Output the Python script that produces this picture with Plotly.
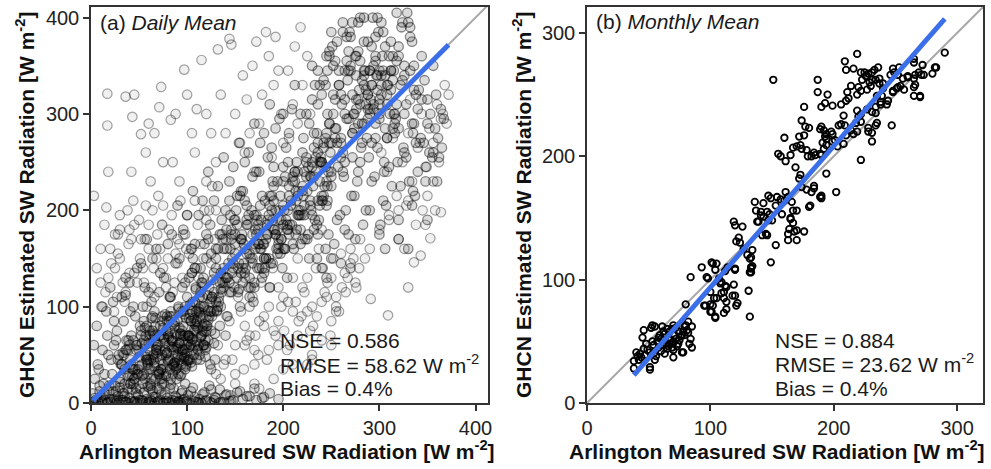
import plotly.graph_objects as go

# ---------------- Panel (a): daily mean ----------------
# bottom strip (GHCN estimate near zero)
daily_x_a = [2,5,8,10,12,15,18,20,23,26, 28,31,34,37,40,43,46,49,52,55, 58,61,64,67,70,73,76,79,82,85,
             88,91,94,97,100,104,108,112,116,120, 125,130,135,140,146,152,158,165,172,180,
             3,7,11,14,17,21,25,29,33,36, 39,42,45,48,51,54,57,60,63,66, 69,72,75,78,81,84,87,90,93,96,
             99,103,107,111,115,119,124,128,133,138,
             4,9,13,19,24,30,35,41,47,53, 59,65,71,77,83,89,95,101,106,113,
             118,123,129,134,141,148,155,162,170,178, 186,195,27,44,62,79,92,109,126,144]
daily_y_a = [1,3,0,6,2,9,1,4,12,0, 7,3,10,1,5,14,2,8,0,11, 4,1,13,6,2,9,0,5,15,3,
             7,1,10,4,2,12,6,0,9,3, 14,5,1,8,2,11,4,7,3,6,
             0,2,1,3,0,1,2,0,3,1, 0,2,1,0,3,2,0,1,2,0, 1,3,0,2,1,0,2,1,0,3,
             1,0,2,1,0,2,1,3,0,1,
             5,12,8,18,4,16,7,20,10,3, 17,6,14,9,19,5,13,8,16,4,
             11,18,6,14,9,3,12,7,15,5, 10,4,2,1,3,0,2,1,0,2]
# dense low core
daily_x_b = [22,25,28,30,33,35,38,40,42,45, 47,50,52,55,57,60,62,64,66,68, 70,72,74,76,78,80,82,84,86,88,
             90,92,94,96,98,100,102,104,106,108, 110,112,114,116,118,120,123,126,129,132,
             24,27,31,34,37,41,44,48,51,54, 58,61,63,65,67,69,71,73,75,77, 79,81,83,85,87,89,91,93,95,97,
             99,101,103,105,107,109,111,113,115,117, 119,122,125,128,131,134,137,140,36,46,
             29,39,49,56,59,63,68,72,76,80, 84,86,88,90,92,94,96,98,100,103, 106,110,114,118,121,124,127,130,135,138,
             26,32,43,53,62,74,82,87,93,97, 79,85,91,71,66,58,102,108,115,95,
             41,44,47,50,53,56,59,62,65,68, 71,74,77,80,83,86,89,92,95,98, 101,104,107,110,113,116,119,122,125,128,
             60,66,72,78,84,90,96,102,108,114, 63,69,75,81,87,93,99,105,111,117, 55,61,67,73,79,85,91,97,103,109,
             30,34,38,42,46,50,54,58,62,66, 70,74,78,82,86,90,94,98,102,106,
             110,114,118,122,126,32,40,48,56,64, 72,80,88,96,104,112,120,128,36,44,
             52,60,68,76,84,92,100,108,116,124, 33,41,49,57,65,73,81,89,97,105,
             113,121,129,37,45,53,61,69,77,85, 93,101,109,117,125,35,55,75,95,115,
             43,63,83,103,123,39,59,79,99,119, 51,71,91,111,47,67,87,107,58,78,
             98,118,62,82,102,86,90,94,74,70]
daily_y_b = [30,18,45,22,52,35,28,60,40,25, 55,38,70,30,48,62,20,75,42,58, 33,80,50,66,28,72,45,90,55,38,
             85,62,48,95,70,52,88,60,105,75, 45,98,68,110,82,58,120,90,72,100,
             60,75,40,85,55,95,65,30,80,100, 50,70,105,45,88,60,115,35,78,92, 52,68,110,40,84,58,98,72,120,46,
             88,64,102,38,76,118,56,94,70,130, 48,86,108,62,96,80,125,70,112,90,
             50,65,35,78,42,88,55,25,68,45, 58,38,72,50,62,30,80,56,44,92, 66,84,100,74,112,95,128,105,118,140,
             12,40,28,62,15,20,35,42,28,48, 52,64,56,32,70,45,70,60,88,75,
             20,35,15,48,28,60,40,18,72,52, 30,85,62,44,95,58,36,78,50,100, 70,42,88,64,110,80,55,96,75,115,
             45,38,55,30,65,48,70,58,82,90, 25,48,35,60,42,72,38,66,78,60, 65,55,80,70,90,82,100,92,68,95,
             25,50,15,70,35,55,20,80,45,65, 30,90,50,75,40,60,95,35,70,55,
             85,45,100,65,110,40,30,60,25,90, 45,70,35,55,85,60,75,95,55,20,
             75,35,55,20,65,45,60,105,75,40, 10,45,30,70,50,35,85,25,60,95,
             50,80,45,65,25,40,75,15,55,30, 70,45,80,60,35,20,85,40,55,70,
             35,70,25,45,90,55,30,85,40,65, 15,70,30,55,60,25,80,50,45,75,
             20,60,35,90,45,15,70,40,25,60]
# middle band
daily_x_c = [130,133,136,139,142,145,148,151,154,157, 160,163,166,169,172,175,178,181,184,187,
             190,193,196,199,202,205,208,211,214,217, 220,223,226,229,232,235,238,241,244,247,
             131,135,141,146,150,155,159,164,168,173, 177,182,186,191,195,200,204,209,213,218,
             222,227,231,236,240,245,249,138,152,167, 183,198,212,228,243,144,158,171,189,206,
             134,143,149,156,162,170,176,185,192,197, 203,210,216,224,233,239,246,250,137,147,
             161,174,188,201,215,230,242,153,179,194,
             141,147,153,159,165,171,177,183,189,195, 201,207,213,219,225,144,156,168,180,192,
             204,216,228,150,162,174,186,198,210,222, 146,158,170,182,194,206,218,230,175,190,
             100,104,108,112,116,120,124,128,132,136, 140,144,148,152,156,160,164,168,172,176,
             180,184,188,192,196,200,204,208,212,216, 220,224,228,232,236,240,244,248,102,110,
             118,126,134,142,150,158,166,174,182,190, 198,206,214,222,230,238,246,106,114,122,
             130,138,146,154,162,170,178,186,194,202, 210,218,226,234,242,250,101,109,117,125,
             133,141,149,157,165,173,181,189,197,205, 213,221,229,237,245,105,125,145,165,185,
             205,225,245,115,135,155,175,195,215,235, 120,140,160,180,200,220,240,150,170,190]
daily_y_c = [150,110,175,125,90,160,140,200,118,170, 135,185,150,105,195,165,130,210,175,145,
             225,160,190,140,235,180,205,160,250,195, 220,170,245,200,265,185,230,210,275,240,
             95,135,180,115,165,100,145,120,175,140, 190,150,120,180,160,205,130,185,220,165,
             195,150,225,175,250,205,260,160,130,200, 185,170,240,210,225,210,220,160,145,175,
             125,145,190,170,155,125,160,195,175,215, 190,230,200,235,190,255,210,270,170,135,
             140,180,200,160,215,245,270,115,165,230,
             130,150,140,165,155,180,160,175,190,170, 200,185,210,195,220,115,170,145,150,200,
             180,220,235,155,185,165,205,190,165,205, 170,125,195,170,155,215,180,250,140,180,
             110,85,140,95,125,150,105,135,160,115, 170,125,145,185,135,160,195,150,175,205,
             165,190,215,175,200,230,185,210,240,195, 225,250,205,235,260,215,245,270,130,95,
             165,110,175,130,190,140,120,185,150,210, 170,225,180,240,195,250,225,150,115,170,
             140,120,180,145,205,165,140,215,180,160, 235,200,175,255,215,240,70,120,100,155,
             105,160,120,175,130,190,140,230,155,200, 175,215,235,190,280,135,95,195,110,150,
             250,170,230,125,100,215,240,165,195,280, 80,130,210,135,185,260,210,175,120,245]
# upper-right cluster
daily_x_d = [232,236,240,244,248,252,256,260,264,268, 272,276,280,284,288,292,296,300,304,308,
             312,316,320,324,328,332,336,340,250,262, 274,286,298,310,322,334,258,270,282,294,
             234,242,246,254,258,266,270,278,282,290, 294,302,306,314,318,326,330,338,262,276,
             288,300,312,324,336,248,268,284,296,308,
             238,252,264,274,280,286,292,298,304,316, 326,272,256,246,290,306,318,280,262,300,
             252,258,264,270,276,282,288,294,300,306, 312,318,255,261,267,273,279,285,291,297,
             303,309,315,260,268,276,284,292,300,308, 266,278,290,302,314,254,272,288,296,284,
             200,206,212,218,224,230,236,242,248,254, 260,266,272,278,284,290,296,302,308,314,
             320,326,332,338,344,350,356,203,215,227, 239,251,263,275,287,299,311,323,335,347,
             359,209,221,233,245,257,269,281,293,305, 317,329,341,353,212,236,260,284,308,332,
             356,224,248,272,296,320,344,230,254,278, 302,326,350,240,264,288,312,336,250,298]
daily_y_d = [280,310,250,330,290,350,270,320,300,365, 280,340,310,375,295,330,355,300,385,320,
             345,290,370,335,310,390,350,305,235,260, 300,325,340,360,330,375,345,380,290,310,
             240,265,300,285,330,295,350,315,270,345, 305,330,285,360,310,340,395,320,385,360,
             320,345,375,395,325,360,345,330,290,275,
             330,320,345,285,355,310,370,325,345,300, 350,395,375,345,305,370,405,400,395,315,
             300,330,315,345,305,335,320,350,310,340, 325,355,285,310,335,300,325,345,315,340,
             360,330,345,275,295,315,290,330,295,310, 355,365,300,320,335,315,280,305,360,340,
             245,280,230,300,255,315,270,335,290,355, 270,380,320,290,400,345,275,395,330,285,
             360,300,345,270,315,290,350,265,240,290, 250,370,235,360,275,385,300,390,280,335,
             320,305,275,330,360,245,385,265,400,250, 295,405,325,300,330,345,255,345,275,380,
             260,300,365,255,380,285,360,350,275,395, 340,260,315,320,250,375,345,290,385,400]
# lower-right part of the band
daily_x_q = [232,238,244,250,256,262,268,274,280,286, 292,298,304,310,316,322,328,334,340,346,
             352,358,364,235,247,259,271,283,295,307, 319,331,343,355,367,241,253,265,277,289,
             301,313,325,337,349,361,236,250,264,278, 292,306,320,334,348,362,245,260,275,290,
             305,320,335,350,365,270,300,330,360,315]
daily_y_q = [180,205,160,225,190,240,175,215,250,200, 230,265,210,245,280,225,255,290,240,270,
             260,285,305,150,175,195,215,185,235,205, 250,230,275,255,295,140,165,200,230,255,
             185,225,265,215,245,275,210,150,180,240, 270,160,190,205,230,255,130,145,170,200,
             240,170,220,190,265,140,175,160,230,300]
# upper-left part of the band
daily_x_r = [32,40,48,56,64,72,80,88,96,104, 112,120,128,136,144,152,160,168,176,184,
             192,200,36,52,68,84,100,116,132,148, 164,180,196,44,60,76,92,108,124,140,
             156,172,188,58,74,90,106,122,138,154, 170,186,66,82,98,114,130,146,162,178]
daily_y_r = [110,125,140,120,150,135,165,145,180,160, 195,175,210,190,230,215,250,235,270,255,
             285,300,130,145,160,175,195,210,225,245, 260,280,295,100,115,130,150,165,185,200,
             220,240,265,170,185,205,220,240,255,270, 290,310,95,110,125,140,160,175,190,215]
# right edge
daily_x_e = [302,308,314,318,324,330,334,340,344,348, 352,356,360,364,368,372,345,338,328,320,
             310,356,362,350,342,366,332,326,358,370]
daily_y_e = [260,240,275,215,250,280,230,265,300,245, 285,270,310,295,330,320,200,185,205,170,
             190,230,250,215,270,300,315,160,200,290]
# upper-left outliers and fill
daily_x_f = [3,6,17,36,45,43,17,73,71,52, 83,115,97,132,146,144,18,16,10,25,
             30,42,57,60,28,66,75,88,100,105, 110,120,64,56,40,85,92,108,125,130,
             12,18,24,30,36,42,48,54,60,66, 72,78,84,90,96,102,108,114,120,126,
             15,21,27,33,39,45,51,57,63,69, 75,81,87,93,99,105,111,117,123,129,
             10,20,30,40,50,60,70,80,90,100, 110,120,130,25,35,45,55,65,75,85,
             95,105,115,125,14,28,38,52,62,78, 88,98,112,118,44,58,68,82,92,108]
daily_y_f = [215,140,321,318,320,297,288,328,307,279, 294,356,346,367,372,378,240,203,160,175,
             195,240,260,290,155,280,250,300,320,280, 305,300,200,170,180,250,230,260,280,250,
             100,130,95,150,115,170,125,140,185,110, 160,130,195,145,175,155,210,165,190,225,
             115,145,110,125,165,135,150,205,120,175, 140,180,125,210,160,135,185,150,200,170,
             125,160,180,135,190,160,215,150,170,195, 140,230,200,140,105,185,125,140,205,115,
             130,160,120,145,185,175,200,170,230,120, 155,175,130,200,210,100,150,110,165,140]
# upper-middle light region
daily_x_h = [150,158,165,172,178,185,192,198,205,212, 218,225,160,175,190,200,210,168,182,195,
             140,135,155,220,228,188,170,206,215,162]
daily_y_h = [300,340,280,375,320,360,380,300,345,370, 390,360,260,290,330,270,310,350,385,345,
             280,320,270,330,300,255,240,275,290,315]
# lower-right outliers and fill
daily_x_g = [150,160,170,180,190,200,210,220,230,240, 250,260,270,280,290,300,310,320,330,255,
             265,275,285,245,235,225,215,205,195,185, 175,165,309,291,364,353,343,336,330,348,
             132,138,144,150,156,162,168,174,180,186, 192,198,204,210,216,222,228,234,240,246,
             252,258,264,270,276,135,147,159,171,183, 195,207,219,231,243,255,267,279,141,153,
             165,177,189,201,213,225,237,249,261,273, 170,190,210,230,250,160,180,200,220,240]
daily_y_g = [60,80,55,90,75,110,95,120,100,140, 130,155,145,170,160,180,195,200,210,95,
             115,125,150,110,90,130,150,105,120,100, 85,70,91,108,198,171,153,146,120,185,
             60,40,85,30,95,65,110,50,80,120, 70,100,55,130,85,115,75,140,105,125,
             150,95,135,160,120,25,45,35,70,45, 85,60,90,80,115,110,130,140,90,110,
             100,125,140,75,105,95,160,70,120,150, 20,25,40,45,60,130,150,160,170,180]
# low estimates at mid measured values
daily_x_i = [130,140,150,160,170,185,200,215,230,250, 145,175,195,120,110,255,240,225]
daily_y_i = [30,45,20,60,40,55,35,70,50,85, 8,15,60,90,75,100,65,40]
# near origin
daily_x_j = [2,4,7,9,12,14,17,19,21,24, 3,6,11,16,20,26,8,13,18,23]
daily_y_j = [10,25,40,18,55,30,70,12,45,85, 60,80,100,95,120,65,35,20,50,105]

# dense part of the cloud and sparse fringe (drawn with different ink weight)
dense_x = daily_x_a + daily_x_b + daily_x_c + daily_x_d + daily_x_q + daily_x_r + daily_x_j
dense_y = daily_y_a + daily_y_b + daily_y_c + daily_y_d + daily_y_q + daily_y_r + daily_y_j
sparse_x = daily_x_e + daily_x_f + daily_x_h + daily_x_g + daily_x_i
sparse_y = daily_y_e + daily_y_f + daily_y_h + daily_y_g + daily_y_i
assert len(dense_x) == len(dense_y) and len(sparse_x) == len(sparse_y)
daily_x = dense_x + sparse_x

# ---------------- Panel (b): monthly mean ----------------
month_x = [38,38,40,42,43,46,44,46,45,48, 51,51,51,52,53,55,55,55,56,58,
           59,60,61,61,62,63,63,64,65,65, 66,67,67,68,69,69,70,70,70,70,
           71,72,73,74,75,76,77,77,78,78, 79,80,80,81,82,82,83,84,84,85,
           85,57,54,49,47,41,60,66,72,74, 62,58,53,79,93,97,98,101,102,104,
           105,107,108,109,109,111,112,112,113,119, 118,105,113,111,113,111,122,120,102,96,
           100,100,101,104,104,131,132,134,133,132, 120,120,114,100,103,95,121,119,120,126,
           123,121,124,127,134,130,133,132,149,133, 133,136,137,143,147,149,154,157,160,163,
           141,146,148,153,158,143,139,138,141,147, 150,142,146,145,153,165,165,167,170,180,
           163,164,168,170,176,163,170,166,161,167, 178,182,184,184,189,190,202,190,194,181,
           174,172,169,173,161,155,165,167,170,173, 160,172,179,182,185,189,191,194,198,201,
           178,184,190,194,199,203,208,192,174,176, 151,157,176,174,177,180,189,190,192,193,
           194,199,204,206,208,209,210,214,216,219, 218,222,222,228,228,231,234,231,247,187,
           195,193,190,199,206,187,219,220,222,227, 231,234,235,239,238,238,243,244,210,212,
           211,214,219,220,222,227,229,230,223,225, 226,231,234,237,237,240,240,231,236,233,
           246,249,252,253,251,254,252,248,248,256, 260,260,265,265,265,270,266,269,273,272,
           265,265,280,283,290,219,209,210,216,222, 228,257,266,270,271,248,235,234,282]
month_y = [28,34,41,35,40,44,37,59,53,48, 41,29,27,61,63,35,41,62,38,45,
           55,52,47,62,51,40,56,48,44,60, 53,48,58,51,60,45,37,43,49,63,
           55,52,46,58,51,54,41,55,58,41, 62,63,80,59,66,57,48,52,102,45,
           62,50,47,43,39,38,42,46,61,48, 58,53,50,55,110,102,101,114,113,108,
           113,101,97,98,89,90,107,95,94,96, 87,85,82,85,76,73,81,87,79,79,
           80,74,74,69,70,91,70,111,109,106, 109,108,110,90,85,79,79,147,144,143,
           134,131,130,125,124,120,118,117,114,110, 106,163,156,162,168,166,167,165,164,167,
           155,155,153,160,153,151,147,147,152,148, 148,136,136,137,128,149,150,156,156,159,
           137,141,139,140,139,132,132,163,171,146, 173,171,174,176,167,166,171,168,186,160,
           175,182,191,185,196,202,201,207,208,209, 215,216,200,200,201,202,211,214,220,213,
           205,203,201,209,212,208,210,206,206,217, 262,200,240,229,224,223,222,224,221,216,
           218,218,225,226,233,225,217,221,218,220, 227,228,197,220,223,219,225,212,225,252,
           250,243,240,241,242,262,237,232,234,238, 236,235,249,249,242,244,242,245,245,247,
           252,257,250,256,253,254,260,257,262,268, 265,262,262,259,263,255,259,268,272,270,
           266,268,266,272,255,257,256,252,253,263, 264,265,263,256,249,248,266,268,266,274,
           276,279,267,272,284,283,277,270,271,268, 267,254,258,249,266,271,227,240,272]
assert len(month_x) == len(month_y), (len(month_x), len(month_y))

# regression fits (slope, intercept) and statistics
fit_a = (0.998, 0.5)
fit_b = (1.146, -20.9)
stats_a = ["NSE = 0.586", "RMSE = 58.62 W m<sup>-2</sup>", "Bias = 0.4%"]
stats_b = ["NSE = 0.884", "RMSE = 23.62 W m<sup>-2</sup>", "Bias = 0.4%"]
ticks_a = [0, 100, 200, 300, 400]
ticks_b = [0, 100, 200, 300]
range_a = [0, 413]
range_b = [0, 321]

FONT = "Liberation Sans, Arial, sans-serif"
W, H = 991, 469
px = lambda v: v / W
py = lambda v: (H - v) / H

fig = go.Figure()

def line_pts(xs, fit):
    x0, x1 = min(xs), max(xs)
    return [x0, x1], [fit[0] * x0 + fit[1], fit[0] * x1 + fit[1]]

# 1:1 lines
fig.add_trace(go.Scatter(x=range_a, y=range_a, mode="lines", line=dict(color="#a8a8a8", width=2),
                         xaxis="x", yaxis="y", hoverinfo="skip", showlegend=False))
fig.add_trace(go.Scatter(x=range_b, y=range_b, mode="lines", line=dict(color="#a8a8a8", width=2),
                         xaxis="x2", yaxis="y2", hoverinfo="skip", showlegend=False))
# points
fig.add_trace(go.Scatter(x=sparse_x, y=sparse_y, mode="markers", xaxis="x", yaxis="y",
                         marker=dict(symbol="circle", size=9.5, color="rgba(0,0,0,0.06)",
                                     line=dict(width=1.2, color="rgba(0,0,0,0.36)")), showlegend=False))
fig.add_trace(go.Scatter(x=dense_x, y=dense_y, mode="markers", xaxis="x", yaxis="y",
                         marker=dict(symbol="circle", size=9.5, color="rgba(0,0,0,0.14)",
                                     line=dict(width=1.3, color="rgba(0,0,0,0.45)")), showlegend=False))
fig.add_trace(go.Scatter(x=month_x, y=month_y, mode="markers", xaxis="x2", yaxis="y2",
                         marker=dict(symbol="circle-open", size=6.5, color="black",
                                     line=dict(width=1.8, color="black")), showlegend=False))
# regression lines
lx, ly = line_pts(daily_x, fit_a)
fig.add_trace(go.Scatter(x=lx, y=ly, mode="lines", line=dict(color="#3b6ee9", width=5),
                         xaxis="x", yaxis="y", showlegend=False))
lx, ly = line_pts(month_x, fit_b)
fig.add_trace(go.Scatter(x=lx, y=ly, mode="lines", line=dict(color="#3b6ee9", width=5),
                         xaxis="x2", yaxis="y2", showlegend=False))

axis_common = dict(showline=True, linecolor="#333333", linewidth=1.5, mirror=True,
                   ticks="outside", ticklen=6, tickwidth=1.5, tickcolor="#333333",
                   showgrid=False, zeroline=False, automargin=False,
                   tickfont=dict(family=FONT, size=20, color="#222222"))
ydom = [py(403), py(7)]
fig.update_layout(
    width=W, height=H, margin=dict(l=0, r=0, t=0, b=0),
    paper_bgcolor="white", plot_bgcolor="white", showlegend=False,
    font=dict(family=FONT, color="#1a1a1a"),
    xaxis=dict(domain=[px(91), px(488)], range=range_a, tickvals=ticks_a, anchor="y", **axis_common),
    yaxis=dict(domain=ydom, range=range_a[:1] + [411], tickvals=ticks_a, anchor="x", **axis_common),
    xaxis2=dict(domain=[px(587), px(983)], range=range_b, tickvals=ticks_b, anchor="y2", **axis_common),
    yaxis2=dict(domain=ydom, range=range_b, tickvals=ticks_b, anchor="x2", **axis_common),
)

ann = []
xt = "<b>Arlington Measured SW Radiation [W m<sup>-2</sup>]</b>"
yt = "<b>GHCN Estimated SW Radiation [W m<sup>-2</sup>]</b>"
for cx, cyx in [(287, 25), (777, 522)]:
    ann.append(dict(text=xt, x=px(cx), y=py(450), xref="paper", yref="paper", showarrow=False,
                    xanchor="center", yanchor="middle", font=dict(family=FONT, size=21, color="#111")))
    ann.append(dict(text=yt, x=px(cyx), y=py(205), xref="paper", yref="paper", showarrow=False,
                    textangle=-90, xanchor="center", yanchor="middle",
                    font=dict(family=FONT, size=21, color="#111")))
# panel titles
ann.append(dict(text="(a) <i>Daily Mean</i>", x=7, y=395, xref="x", yref="y", showarrow=False,
                xanchor="left", yanchor="middle", font=dict(family=FONT, size=21, color="#1a1a1a")))
ann.append(dict(text="(b) <i>Monthly Mean</i>", x=6, y=309, xref="x2", yref="y2", showarrow=False,
                xanchor="left", yanchor="middle", font=dict(family=FONT, size=21, color="#1a1a1a")))
# statistics
for txt, yv in zip(stats_a, [64.6, 40.6, 14.6]):
    ann.append(dict(text=txt, x=195, y=yv, xref="x", yref="y", showarrow=False,
                    xanchor="left", yanchor="middle", font=dict(family=FONT, size=21, color="#1a1a1a")))
for txt, yv in zip(stats_b, [50.9, 32.2, 12.0]):
    ann.append(dict(text=txt, x=151, y=yv, xref="x2", yref="y2", showarrow=False,
                    xanchor="left", yanchor="middle", font=dict(family=FONT, size=21, color="#1a1a1a")))
fig.update_layout(annotations=ann)

fig.write_html("out.html")
